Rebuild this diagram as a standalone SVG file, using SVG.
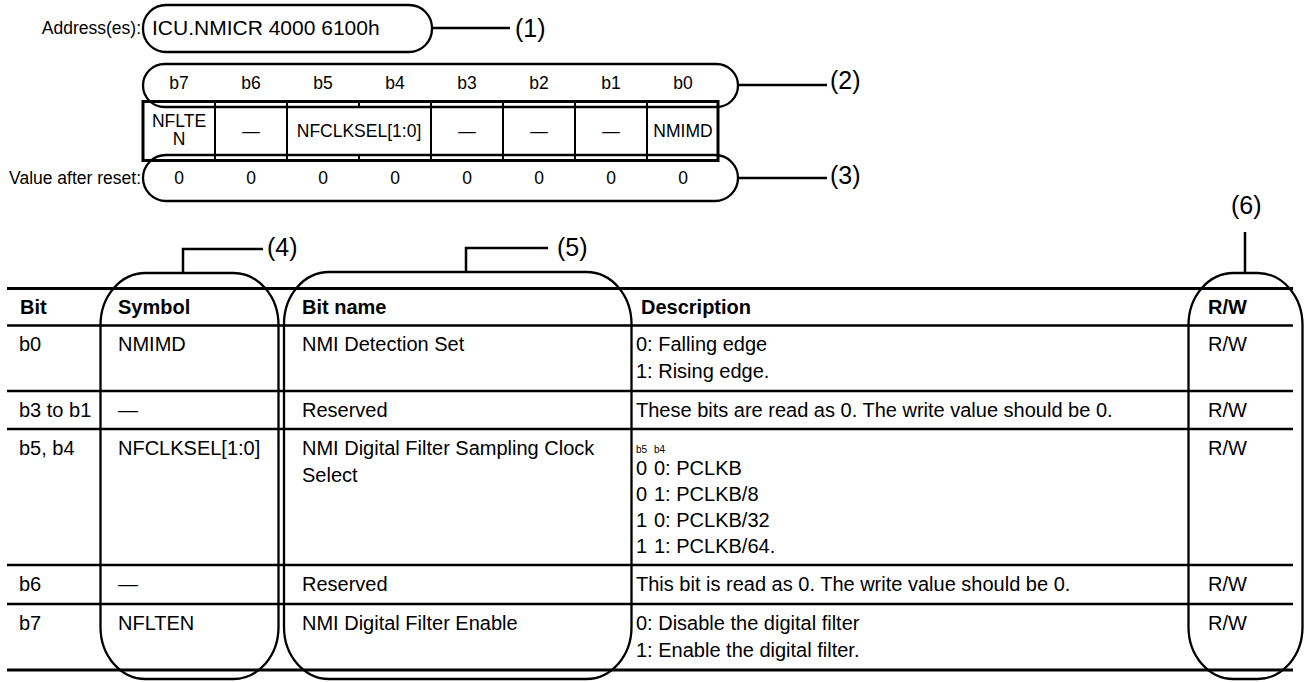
<svg xmlns="http://www.w3.org/2000/svg" width="1304" height="682" viewBox="0 0 1304 682">
<style>
text{font-family:"Liberation Sans",Arial,sans-serif;fill:#000}
.t{font-size:20px}
.h{font-size:20px;font-weight:bold}
.r{font-size:17.5px}
.s{font-size:10px}
.c{text-anchor:middle}
.e{text-anchor:end}
.lbl{font-size:25px}
.box{fill:none;stroke:#000;stroke-width:2.3}
.hl{stroke:#000;stroke-width:2.7}
.thin{stroke:#000;stroke-width:2}
.conn{fill:none;stroke:#000;stroke-width:2.5}
</style>
<rect width="1304" height="682" fill="#fff"/>

<g id="address">
  <text class="r e" x="141" y="34">Address(es):</text>
  <rect class="box" x="143" y="5" width="289" height="47" rx="23"/>
  <text x="152" y="35" style="font-size:21px">ICU.NMICR 4000 6100h</text>
  <text class="lbl" x="515" y="37">(1)</text>
</g>

<g id="bit-numbers">
  <rect class="box" x="143" y="64" width="595" height="43" rx="21.5"/>
  <text class="r c" x="179" y="89">b7</text>
  <text class="r c" x="251" y="89">b6</text>
  <text class="r c" x="323" y="89">b5</text>
  <text class="r c" x="395" y="89">b4</text>
  <text class="r c" x="467" y="89">b3</text>
  <text class="r c" x="539" y="89">b2</text>
  <text class="r c" x="611" y="89">b1</text>
  <text class="r c" x="683" y="89">b0</text>
  <text class="lbl" x="830" y="89">(2)</text>
</g>

<g id="register">
  <rect x="143" y="101.5" width="575" height="59" fill="none" stroke="#000" stroke-width="3"/>
  <line class="thin" x1="215" y1="101" x2="215" y2="161"/>
  <line class="thin" x1="287" y1="101" x2="287" y2="161"/>
  <line class="thin" x1="359" y1="101" x2="359" y2="107"/>
  <line class="thin" x1="359" y1="154" x2="359" y2="161"/>
  <line class="thin" x1="431" y1="101" x2="431" y2="161"/>
  <line class="thin" x1="503" y1="101" x2="503" y2="161"/>
  <line class="thin" x1="575" y1="101" x2="575" y2="161"/>
  <line class="thin" x1="647" y1="101" x2="647" y2="161"/>
  <text class="r c" x="179" y="127">NFLTE</text>
  <text class="r c" x="179" y="145">N</text>
  <text class="r c" x="251" y="137">—</text>
  <text class="r c" x="359" y="137">NFCLKSEL[1:0]</text>
  <text class="r c" x="467" y="137">—</text>
  <text class="r c" x="539" y="137">—</text>
  <text class="r c" x="611" y="137">—</text>
  <text class="r c" x="683" y="137">NMIMD</text>
</g>

<g id="reset-values">
  <text class="r e" x="141" y="184">Value after reset:</text>
  <rect class="box" x="143" y="155" width="595" height="46" rx="23"/>
  <text class="r c" x="179" y="184">0</text>
  <text class="r c" x="251" y="184">0</text>
  <text class="r c" x="323" y="184">0</text>
  <text class="r c" x="395" y="184">0</text>
  <text class="r c" x="467" y="184">0</text>
  <text class="r c" x="539" y="184">0</text>
  <text class="r c" x="611" y="184">0</text>
  <text class="r c" x="683" y="184">0</text>
  <text class="lbl" x="830" y="184">(3)</text>
</g>

<g id="table">
  <line x1="7" y1="288.5" x2="1293" y2="288.5" stroke="#000" stroke-width="3"/>
  <line class="hl" x1="7" y1="325.5" x2="1293" y2="325.5"/>
  <line class="hl" x1="7" y1="391" x2="1293" y2="391"/>
  <line class="hl" x1="7" y1="429" x2="1293" y2="429"/>
  <line class="hl" x1="7" y1="565" x2="1293" y2="565"/>
  <line class="hl" x1="7" y1="604" x2="1293" y2="604"/>
  <line x1="7" y1="670" x2="1293" y2="670" stroke="#000" stroke-width="3"/>

  <text class="h" x="20" y="314">Bit</text>
  <text class="h" x="118" y="314">Symbol</text>
  <text class="h" x="302" y="314">Bit name</text>
  <text class="h" x="641" y="314">Description</text>
  <text class="h" x="1208" y="314">R/W</text>

  <text class="t" x="19" y="351">b0</text>
  <text class="t" x="118" y="351">NMIMD</text>
  <text class="t" x="302" y="351">NMI Detection Set</text>
  <text class="t" x="636" y="351">0: Falling edge</text>
  <text class="t" x="636" y="378">1: Rising edge.</text>
  <text class="t" x="1208" y="351">R/W</text>

  <text class="t" x="19" y="417">b3 to b1</text>
  <text class="t" x="118" y="417">—</text>
  <text class="t" x="302" y="417">Reserved</text>
  <text class="t" x="636" y="417">These bits are read as 0. The write value should be 0.</text>
  <text class="t" x="1208" y="417">R/W</text>

  <text class="t" x="19" y="455">b5, b4</text>
  <text class="t" x="118" y="455">NFCLKSEL[1:0]</text>
  <text class="t" x="302" y="455">NMI Digital Filter Sampling Clock</text>
  <text class="t" x="302" y="482">Select</text>
  <text class="s" x="636" y="453">b5</text>
  <text class="s" x="654" y="453">b4</text>
  <text class="t" x="636" y="475">0</text><text class="t" x="654" y="475">0: PCLKB</text>
  <text class="t" x="636" y="501">0</text><text class="t" x="654" y="501">1: PCLKB/8</text>
  <text class="t" x="636" y="527">1</text><text class="t" x="654" y="527">0: PCLKB/32</text>
  <text class="t" x="636" y="553">1</text><text class="t" x="654" y="553">1: PCLKB/64.</text>
  <text class="t" x="1208" y="455">R/W</text>

  <text class="t" x="19" y="591">b6</text>
  <text class="t" x="118" y="591">—</text>
  <text class="t" x="302" y="591">Reserved</text>
  <text class="t" x="636" y="591">This bit is read as 0. The write value should be 0.</text>
  <text class="t" x="1208" y="591">R/W</text>

  <text class="t" x="19" y="630">b7</text>
  <text class="t" x="118" y="630">NFLTEN</text>
  <text class="t" x="302" y="630">NMI Digital Filter Enable</text>
  <text class="t" x="636" y="630">0: Disable the digital filter</text>
  <text class="t" x="636" y="657">1: Enable the digital filter.</text>
  <text class="t" x="1208" y="630">R/W</text>
</g>

<g id="symbol-column-outline">
  <rect class="box" x="100.5" y="273" width="178" height="406" rx="45" ry="52"/>
  <text class="lbl" x="267" y="256">(4)</text>
</g>
<g id="bitname-column-outline">
  <rect class="box" x="284" y="272" width="347.5" height="407" rx="45" ry="52"/>
  <text class="lbl" x="557" y="256">(5)</text>
</g>
<g id="rw-column-outline">
  <rect class="box" x="1188.5" y="273" width="114" height="406" rx="45" ry="52"/>
  <text class="lbl" x="1231" y="214">(6)</text>
</g>

<g id="connectors">
  <path class="conn" d="M432,28 H510"/>
  <path class="conn" d="M738,85 H827"/>
  <path class="conn" d="M738,178 H827"/>
  <path class="conn" d="M183,273 V249 H263"/>
  <path class="conn" d="M466,272 V248 H548"/>
  <path class="conn" d="M1245,273 V232"/>
</g>
</svg>
